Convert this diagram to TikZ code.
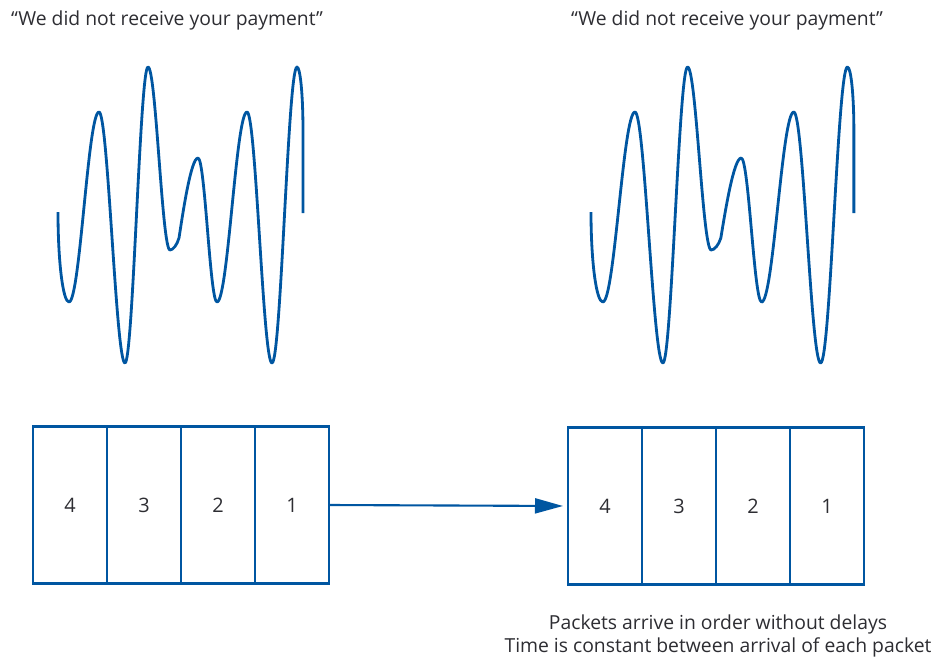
\documentclass[tikz,border=0pt]{standalone}
\usepackage{fontspec}
\setmainfont{Open Sans}
\usetikzlibrary{arrows.meta, positioning}
\definecolor{pktblue}{RGB}{0,86,161}
\definecolor{txtgray}{RGB}{45,45,50}
\tikzset{
  cell/.style={rectangle, draw=pktblue, line width=2.4pt, outer sep=0pt,
    minimum width=2.22cm, minimum height=4.71cm, font=\fontsize{17}{20}\selectfont,
    text=txtgray},
  label/.style={font=\fontsize{16.5}{19.5}\selectfont, text=txtgray, align=center},
  arrow/.style={-{Triangle[length=0.84cm, width=0.45cm]}, line width=1.8pt, color=pktblue},
  % voice signal, starting at the pic origin
  wave/.pic={
    \draw[pktblue, line width=2.4pt, line join=round]
      (0,0) .. controls (0,50) and (5,90) .. (11,90)
      .. controls (22,90) and (30,-100) .. (41,-100)
      .. controls (50,-100) and (58,151) .. (67,151)
      .. controls (75,151) and (82,-145) .. (90,-145)
      .. controls (98,-145) and (104,38) .. (112,38)
      .. controls (115,38) and (119,33) .. (121,26)
      .. controls (125,0) and (133,-54) .. (140,-54)
      .. controls (147,-54) and (152,90) .. (159,90)
      .. controls (170,90) and (178,-100) .. (189,-100)
      .. controls (198,-100) and (205,151) .. (214,151)
      .. controls (223,151) and (230,-145) .. (239,-145)
      .. controls (242,-145) and (245,-120) .. (245,-80) -- (245,1);
  }
}
\begin{document}
\begin{tikzpicture}[x=0.03cm, y=-0.03cm]
  \useasboundingbox (0,0) rectangle (944,662);

  % sender side
  \node[label] (saidl) at (167,20) {“We did not receive your payment”};
  \pic at (58,212) {wave};
  \node[cell, anchor=west] (l4) at (33,505) {4};
  \node[cell, right=0pt of l4] (l3) {3};
  \node[cell, right=0pt of l3] (l2) {2};
  \node[cell, right=0pt of l2] (l1) {1};

  % receiver side
  \node[label] (saidr) at (727,20) {“We did not receive your payment”};
  \pic[xscale=1.073] at (591,212) {wave};
  \node[cell, anchor=west] (r4) at (568,506) {4};
  \node[cell, right=0pt of r4] (r3) {3};
  \node[cell, right=0pt of r3] (r2) {2};
  \node[cell, right=0pt of r2] (r1) {1};

  \draw[arrow, shorten >=0.15cm] (l1.east) -- (r4.west);

  \node[label] (note) at (718,636)
    {Packets arrive in order without delays\\Time is constant between arrival of each packet};
\end{tikzpicture}
\end{document}
